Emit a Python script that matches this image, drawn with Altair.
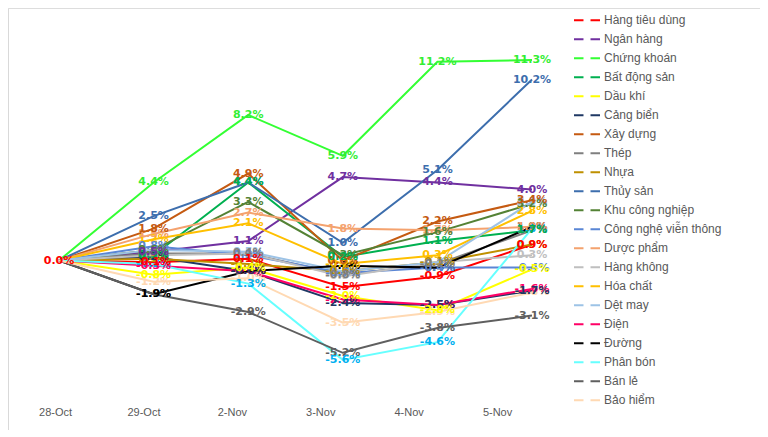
import altair as alt
import pandas as pd

dates = ["28-Oct", "29-Oct", "2-Nov", "3-Nov", "4-Nov", "5-Nov"]

series = [
    "Hàng tiêu dùng", "Ngân hàng", "Chứng khoán", "Bất động sản", "Dầu khí",
    "Cảng biển", "Xây dựng", "Thép", "Nhựa", "Thủy sản", "Khu công nghiệp",
    "Công nghệ viễn thông", "Dược phẩm", "Hàng không", "Hóa chất", "Dệt may",
    "Điện", "Đường", "Phân bón", "Bán lẻ", "Bảo hiểm",
]

line_colors = [
    "#FF0000", "#7030A0", "#33FF33", "#00B050", "#FFFF00",
    "#1F3864", "#C55A11", "#7F7F7F", "#BF9000", "#3D6EAD", "#548235",
    "#5A86D5", "#F4A26E", "#BFBFBF", "#FFC000", "#9DC3E6",
    "#FF0066", "#000000", "#66FFFF", "#5F5F5F", "#FFD9B3",
]

label_colors = [
    "#FF0000", "#7030A0", "#33EE33", "#00B050", "#FFFF00",
    "#1F3864", "#C55A11", "#7F7F7F", "#BF9000", "#3D6EAD", "#548235",
    "#5A86D5", "#F4A26E", "#BFBFBF", "#FFC000", "#9DC3E6",
    "#FF0066", "#000000", "#00B0F0", "#5F5F5F", "#FFD9B3",
]

# values (%) per date, in the order of `series`
oct28 = [0.0] * 21
oct29 = [-0.1, 0.5, 4.4, 0.3, -0.8, 0.2, 1.8, 0.4, 0.1, 2.5, 0.6,
         0.8, 1.5, 0.3, 1.2, 0.6, -0.3, -1.9, -0.2, -1.9, -1.2]
nov2 = [0.1, 1.1, 8.2, 4.4, -0.4, -0.6, 4.9, 0.4, -0.2, 4.4, 3.3,
        0.3, 2.7, 0.4, 2.1, 0.5, -0.6, -0.6, -1.3, -2.9, -1.0]
nov3 = [-1.5, 4.7, 5.9, 0.2, -2.0, -2.4, 0.0, -0.8, -0.6, 1.0, 0.3,
        -0.7, 1.8, -0.9, -0.2, -0.6, -2.2, -0.3, -5.6, -5.2, -3.5]
nov4 = [-0.9, 4.4, 11.2, 1.1, -2.8, -2.5, 2.2, -0.2, -0.1, 5.1, 1.6,
        -0.4, 1.7, -0.1, 0.3, -0.1, -2.5, -0.4, -4.6, -3.8, -2.9]
nov5 = [0.9, 4.0, 11.3, 1.7, -0.5, -1.7, 3.4, 1.7, 0.9, 10.2, 3.2,
        -0.4, 1.9, 0.3, 2.8, 3.3, -1.6, 1.9, 1.8, -3.1, -1.8]

columns = [oct28, oct29, nov2, nov3, nov4, nov5]

rows = []
for i, (d, col) in enumerate(zip(dates, columns)):
    for k, s in enumerate(series):
        rows.append({"date": d, "idx": i, "series": s, "rank": k, "value": col[k]})
df = pd.DataFrame(rows)

# axis label placement (labels sit a bit left of the points, as in the original)
label_step = 0.9345
label_shift = -0.042
label_values = [label_shift + label_step * i for i in range(len(dates))]
label_expr = "[" + ",".join("'" + d + "'" for d in dates) + "][round((datum.value - (%f)) / %f)]" % (label_shift, label_step)

x_scale = alt.Scale(domain=[-0.539, 7.41], nice=False, zero=False)
y_scale = alt.Scale(domain=[-9.55, 14.23], nice=False, zero=False)

x_enc = alt.X(
    "idx:Q",
    scale=x_scale,
    axis=alt.Axis(
        values=label_values, labelExpr=label_expr, title=None, grid=False,
        ticks=False, domainColor="#D9D9D9", labelColor="#595959",
        labelFont="Liberation Sans", labelFontSize=11, labelPadding=-24,
    ),
)
y_enc = alt.Y(
    "value:Q",
    scale=y_scale,
    axis=alt.Axis(title=None, labels=False, ticks=False, grid=False, domainColor="#D9D9D9"),
)

lines = alt.Chart(df).mark_line(strokeWidth=2).encode(
    x=x_enc,
    y=y_enc,
    color=alt.Color(
        "series:N",
        sort=series,
        scale=alt.Scale(domain=series, range=line_colors),
        legend=alt.Legend(
            title=None, orient="none", legendX=565, legendY=3,
            symbolType="M-1,0L-0.27,0M0.27,0L1,0", symbolSize=676,
            symbolStrokeWidth=2, labelFont="Liberation Sans", labelFontSize=12,
            labelColor="#595959", labelOffset=3, rowPadding=0, padding=0,
            clipHeight=18.4, labelLimit=220,
        ),
    ),
    detail="series:N",
)

# only one label is visible at the common starting point in the original
labels = alt.Chart(df).transform_filter(
    "datum.idx > 0 || datum.rank == 0"
).transform_calculate(
    label="(datum.value < 0 ? '-' : '') + format(abs(datum.value), '.1f') + '%'"
).mark_text(font="DejaVu Sans", fontWeight="bold", fontSize=11).encode(
    x=alt.X("idx:Q", scale=x_scale),
    y=alt.Y("value:Q", scale=y_scale),
    text="label:N",
    color=alt.Color("series:N", scale=alt.Scale(domain=series, range=label_colors), legend=None),
    order=alt.Order("rank:Q", sort="descending"),
)

chart = alt.layer(lines, labels).resolve_scale(color="independent").properties(
    width=752, height=422,
    autosize=alt.AutoSizeParams(type="none"),
    padding={"left": 0, "top": 0, "right": 0, "bottom": 0},
).configure_view(stroke=None).configure(background="white")

chart.save("out.html", embed_options={"renderer": "svg", "actions": False})
